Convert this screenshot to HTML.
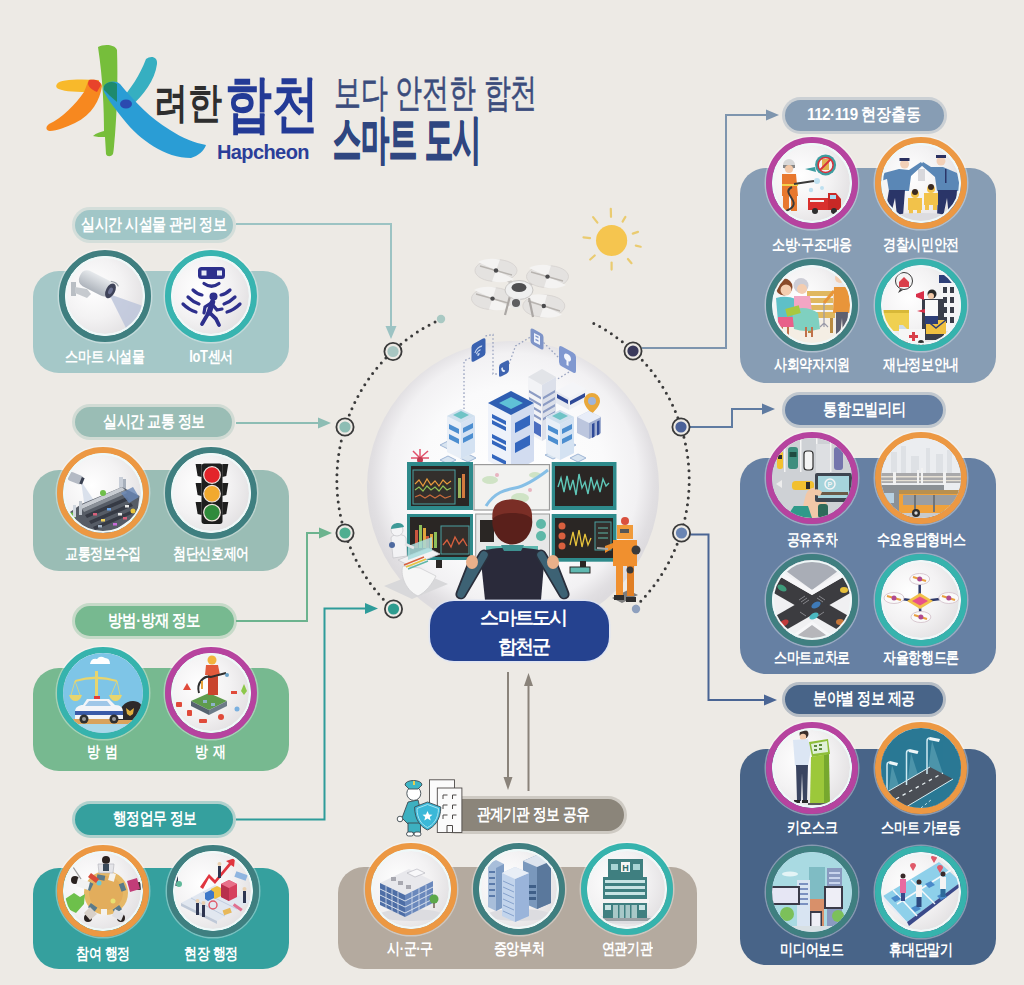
<!DOCTYPE html>
<html><head><meta charset="utf-8">
<style>
html,body{margin:0;padding:0}
body{width:1024px;height:985px;position:relative;overflow:hidden;background:#EDEAE5;font-family:"Liberation Sans",sans-serif}
.a{position:absolute}
.panel{position:absolute;border-radius:26px}
.pill{position:absolute;display:flex;justify-content:center;align-items:center;border-radius:16px;color:#fff;font-weight:bold;font-size:17px;text-align:center;letter-spacing:-0.5px;white-space:nowrap}
.pt{display:inline-block;transform-origin:50% 50%}
.c{position:absolute;width:92px;height:92px;border-radius:50%;box-sizing:border-box;border:6px solid #3a7f7f;overflow:hidden;box-shadow:0 0 0 1.5px rgba(255,255,255,.35)}
.c .in{position:absolute;left:0;top:0;right:0;bottom:0;border-radius:50%;border:2px solid #eef9f9;background:radial-gradient(circle at 35% 40%,#ffffff 0%,#f3f2f3 45%,#d9d6d8 100%)}
.c svg{position:absolute;left:0;top:0;width:80px;height:80px}
.lbl{position:absolute;width:120px;color:#fff;font-weight:bold;font-size:16px;text-align:center;letter-spacing:-0.4px;line-height:16px;transform:scaleX(0.81);transform-origin:50% 0}
</style></head><body>

<svg class="a" style="left:0;top:0" width="1024" height="985" viewBox="0 0 1024 985">
<g fill="none" stroke-width="2">
<path d="M236,224 H391 V328" stroke="#9CC3C3"/>
<path d="M236,423 H320" stroke="#8DBDB4"/>
<path d="M236,621 H307 V533 H321" stroke="#6CB38E"/>
<path d="M236,819.5 H324.5 V608.5 H367" stroke="#2E9C9A"/>
<path d="M642,348 H726 V115 H768" stroke="#7E95AE"/>
<path d="M690,427 H732 V409 H764" stroke="#5F7BA1"/>
<path d="M690,534.5 H708.5 V700 H766" stroke="#4A6594"/>
</g>
<polygon points="385.5,326 396.5,326 391,339" fill="#9CC3C3"/>
<polygon points="318,417.5 318,428.5 331,423" fill="#8DBDB4"/>
<polygon points="319,527.5 319,538.5 332,533" fill="#6CB38E"/>
<polygon points="365,603 365,614 378,608.5" fill="#2E9C9A"/>
<polygon points="766,109.5 766,120.5 779,115" fill="#7E95AE"/>
<polygon points="762,403.5 762,414.5 775,409" fill="#5F7BA1"/>
<polygon points="764,694.5 764,705.5 777,700" fill="#4A6594"/>
<g fill="none" stroke="#3a3a3a" stroke-width="3" stroke-linecap="round" stroke-dasharray="0 6.8">
<path d="M441.1,319.2 A176.2,176.2 0 0 0 393.3,609.3"/>
<path d="M593.8,323.4 A176.2,176.2 0 0 1 634.5,607.6"/>
</g>
<circle cx="441" cy="319" r="4.2" fill="#A9C9C3"/>
<circle cx="636" cy="609" r="4.2" fill="#8EA0BE"/>
<g stroke="#3a3a3a" stroke-width="1.8" fill="#EDEAE5">
<circle cx="393" cy="351.5" r="8.6"/><circle cx="345" cy="427" r="8.6"/><circle cx="345" cy="533" r="8.6"/><circle cx="393.5" cy="609" r="8.6"/>
<circle cx="633" cy="351" r="8.6"/><circle cx="681" cy="427" r="8.6"/><circle cx="681.5" cy="533" r="8.6"/>
</g>
<circle cx="393" cy="351.5" r="5.6" fill="#A8C6C2"/><circle cx="345" cy="427" r="5.6" fill="#8DBDB4"/><circle cx="345" cy="533" r="5.6" fill="#4FAE90"/><circle cx="393.5" cy="609" r="5.6" fill="#2E9C8F"/>
<circle cx="633" cy="351" r="5.6" fill="#3A3A5C"/><circle cx="681" cy="427" r="5.6" fill="#4B6299"/><circle cx="681.5" cy="533" r="5.6" fill="#6A85B3"/>
<g transform="translate(611.6,240.5)">
<circle r="15.6" fill="#F5C54F"/>
<g stroke="#EACB70" stroke-width="2.2" stroke-linecap="round"><line x1="-0.6" y1="-23.7" x2="-0.8" y2="-31.7"/><line x1="11.0" y1="-18.9" x2="13.8" y2="-23.6"/><line x1="21.2" y1="-6.9" x2="26.4" y2="-8.6"/><line x1="24.2" y1="5.1" x2="29.1" y2="6.2"/><line x1="16.3" y1="18.5" x2="19.9" y2="22.7"/><line x1="0.0" y1="22.1" x2="0.0" y2="29.1"/><line x1="-16.9" y1="15.0" x2="-21.4" y2="19.0"/><line x1="-21.6" y1="-2.4" x2="-28.1" y2="-3.1"/><line x1="-14.2" y1="-17.9" x2="-18.5" y2="-23.4"/></g></g>
</svg>
<!-- LEFT PANELS -->
<div class="panel" style="left:33px;top:271px;width:256px;height:102px;background:#A5C8C8"></div>
<div class="pill" style="left:74.5px;top:210px;width:158px;height:29.5px;line-height:29.5px;background:#A1C6C7;box-shadow:0 0 0 3px #A1C6C755"><span class="pt" style="transform:scaleX(0.817)">실시간 시설물 관리 정보</span></div>
<div class="c" style="left:59px;top:250px;border-color:#3F7F80"><div class="in"></div><svg viewBox="0 0 80 80" width="80" height="80">
<defs><linearGradient id="cam" x1="0" y1="0" x2="0" y2="1"><stop offset="0" stop-color="#E6E9EC"/><stop offset="1" stop-color="#AEB4BC"/></linearGradient></defs>
<polygon points="44,38 78,50 64,78" fill="#BAC3DA" opacity="0.8"/>
<path d="M6,26 h5 v14 h-5z" fill="#B9BEC4"/>
<path d="M10,31 L22,33 L26,38 L22,42 L10,37z" fill="#C6CACF"/>
<g transform="translate(31,28) rotate(27)">
<rect x="-18" y="-9" width="35" height="17" rx="7" fill="url(#cam)"/>
<ellipse cx="16" cy="-0.5" rx="4.5" ry="8" fill="#3E4258"/>
<ellipse cx="16" cy="-0.5" rx="2" ry="3.5" fill="#6A7090"/>
<path d="M12,-9 q6,-2 9,1" stroke="#9AA0A8" stroke-width="1.2" fill="none"/>
</g><circle cx="40" cy="40" r="39" fill="none" stroke="#EFF8F8" stroke-width="2"/></svg></div>
<div class="c" style="left:165px;top:250px;border-color:#38B4B0"><div class="in"></div><svg viewBox="0 0 80 80" width="80" height="80">
<g fill="#2D2F8C">
<rect x="27" y="11" width="27" height="12" rx="3.5"/>
</g>
<rect x="30.5" y="14.5" width="5" height="5" fill="#E8ECF6"/><rect x="46" y="14.5" width="5" height="5" fill="#E8ECF6"/>
<g fill="none" stroke="#2D2F8C" stroke-width="3.2" stroke-linecap="round">
<path d="M33,27.5 Q40.5,33 48,27.5"/>
<path d="M22,34 Q26,38 31,39"/><path d="M59,34 Q55,38 50,39"/>
<path d="M17,41 Q22,46 28,48"/><path d="M64,41 Q59,46 53,48"/>
<path d="M12,48 Q18,54 25,56"/><path d="M69,48 Q63,54 56,56"/>
<path d="M38,56 L31,68" stroke-width="3.8"/><path d="M38,56 L45,63 L48,69" stroke-width="3.8"/>
<path d="M40,47 L34,51 L33,57"/><path d="M41,48 L46,54 L51,53"/>
<path d="M41.5,46 L38,57" stroke-width="5.5"/>
</g>
<circle cx="42.5" cy="40.5" r="4" fill="#2D2F8C"/>
<circle cx="40" cy="40" r="39" fill="none" stroke="#EFF8F8" stroke-width="2"/></svg></div>
<div class="lbl" style="left:45px;top:349px">스마트 시설물</div>
<div class="lbl" style="left:151px;top:349px">IoT센서</div>

<div class="panel" style="left:33px;top:470px;width:256px;height:101px;background:#9ABDB5"></div>
<div class="pill" style="left:74.8px;top:407.4px;width:157.7px;height:29.6px;line-height:29.6px;background:#9ABDB5;box-shadow:0 0 0 3px #9ABDB555"><span class="pt" style="transform:scaleX(0.82)">실시간 교통 정보</span></div>
<div class="c" style="left:57px;top:447px;border-color:#EC9843"><div class="in"></div><svg viewBox="0 0 80 80" width="80" height="80">
<polygon points="18,28 34,52 22,56" fill="#D6DEEA" opacity="0.9"/>
<g transform="translate(12,25) rotate(22)"><rect x="-7" y="-4.5" width="15" height="9" rx="3" fill="#B4BAC4"/><rect x="6" y="-3.5" width="3" height="7" fill="#3A4050"/></g>
<rect x="56" y="24" width="4" height="14" fill="#C8CED8"/><rect x="60" y="26" width="3" height="10" fill="#A8B0BC"/>
<polygon points="5.6,60 18.5,51 59,34 76.5,43 74,62 46,81 21,77" fill="#565C66"/>
<polygon points="16,53 59,34 62,37 19,56" fill="#C8CCD2"/>
<polygon points="19,56 62,37 64,40 21,59" fill="#8A9098"/>
<g fill="#363A44"><polygon points="22,62 64,44 66,47 24,65"/><polygon points="26,68 68,50 70,53 28,71"/><polygon points="30,74 72,56 73,59 32,77"/></g>
<g><rect x="30" y="60" width="4" height="2.5" fill="#D8607A"/><rect x="44" y="55" width="4" height="2.5" fill="#6AA0E0"/><rect x="38" y="66" width="4" height="2.5" fill="#F2D35C"/><rect x="55" y="60" width="4" height="2.5" fill="#E8E8E8"/><rect x="50" y="70" width="4" height="2.5" fill="#C86AD8"/><rect x="62" y="52" width="4" height="2.5" fill="#E8E8E8"/><rect x="35" y="72" width="4" height="2.5" fill="#A8B8C8"/><rect x="60" y="64" width="4" height="2.5" fill="#D8607A"/></g>
<circle cx="9" cy="63" r="3.5" fill="#6FBF4A"/><circle cx="40" cy="40" r="3" fill="#6FBF4A"/><circle cx="70" cy="58" r="2.5" fill="#E8C43C"/><circle cx="72" cy="66" r="3" fill="#6FBF4A"/>
<rect x="16" y="48" width="3" height="14" fill="#C0C6CE"/><rect x="10" y="52" width="3" height="12" fill="#D0D6DE"/>
<polygon points="58,40 70,34 76,44 66,50" fill="#6A88B8" opacity="0.8"/>
<circle cx="40" cy="40" r="39" fill="none" stroke="#EFF8F8" stroke-width="2"/></svg></div>
<div class="c" style="left:165px;top:447px;border-color:#3F7F80"><div class="in"></div><svg viewBox="0 0 80 80" width="80" height="80">
<path d="M24.6,11 h6 v13 l-4,-1z M51.3,11 h6 l-2,12 -4,1z M24.6,30 h6 v13 l-4,-1z M51.3,30 h6 l-2,12 -4,1z M24.6,49 h6 v13 l-4,-1z M51.3,49 h6 l-2,12 -4,1z" fill="#1E1E1E"/>
<rect x="30.5" y="10.5" width="21" height="60.5" rx="3" fill="#1E1E1E"/>
<circle cx="41" cy="22" r="8.3" fill="#E3242B" stroke="#F2E6E0" stroke-width="1.2"/>
<circle cx="41" cy="40.7" r="8.3" fill="#F2A92F" stroke="#F2E6E0" stroke-width="1.2"/>
<circle cx="41" cy="59.6" r="8.3" fill="#2F8A3B" stroke="#F2E6E0" stroke-width="1.2"/>
<circle cx="40" cy="40" r="39" fill="none" stroke="#EFF8F8" stroke-width="2"/></svg></div>
<div class="lbl" style="left:43px;top:546px">교통정보수집</div>
<div class="lbl" style="left:151px;top:546px">첨단신호제어</div>

<div class="panel" style="left:33px;top:668px;width:256px;height:103px;background:#77B990"></div>
<div class="pill" style="left:74.5px;top:606.3px;width:159px;height:29.7px;line-height:29.7px;background:#77B990;box-shadow:0 0 0 3px #77B99055"><span class="pt" style="transform:scaleX(0.85)">방범·방재 정보</span></div>
<div class="c" style="left:57px;top:647px;border-color:#36B3AD"><div class="in"></div><svg viewBox="0 0 80 80" width="80" height="80">
<rect x="0" y="0" width="80" height="80" fill="#7EC5E7"/>
<rect x="0" y="67" width="80" height="13" fill="#A9D8EA"/>
<rect x="8" y="66" width="64" height="5" fill="#D9A35C"/>
<path d="M27,11 q1,-6 7,-5 q3,-4 8,-1 q5,0 5,6z" fill="#fff"/>
<g fill="#E8D56E"><rect x="32" y="18" width="3" height="30"/><path d="M12,27 Q33,20 54,27 L54,29 Q33,23 12,29z"/><path d="M6,42 h13 q-2,6 -6.5,6 q-4.5,0 -6.5,-6z"/><path d="M46,42 h13 q-2,6 -6.5,6 q-4.5,0 -6.5,-6z"/></g>
<g stroke="#E8D56E" stroke-width="0.8"><line x1="12" y1="28" x2="8" y2="42"/><line x1="12" y1="28" x2="17" y2="42"/><line x1="54" y1="28" x2="48" y2="42"/><line x1="54" y1="28" x2="57" y2="42"/></g>
<path d="M55,67 C55,55 62,48 70,48 C76,48 80,52 80,58 L80,67z" fill="#2E2A2A"/>
<path d="M63,55 l4,3 4,-3 -1,6 -3,2 -3,-2z" fill="#E0B040"/>
<path d="M12,59 C12,54 16,52 20,52 L24,46 L46,46 L52,52 C58,52 60,55 60,59 L60,66 L12,66z" fill="#F4F5F8"/>
<path d="M26,48 h18 l4,5 h-26z" fill="#9FC7E8"/>
<rect x="12" y="58" width="48" height="4" fill="#3A5BA8"/>
<rect x="31" y="43" width="6" height="3" fill="#E23A3A"/>
<circle cx="21" cy="66" r="4.5" fill="#2E2E2E"/><circle cx="51" cy="66" r="4.5" fill="#2E2E2E"/>
<circle cx="21" cy="66" r="2" fill="#999"/><circle cx="51" cy="66" r="2" fill="#999"/>
</svg></div>
<div class="c" style="left:165px;top:647px;border-color:#B6439F"><div class="in"></div><svg viewBox="0 0 80 80" width="80" height="80">
<polygon points="20,48 38,40 56,48 38,57" fill="#5F9B4C"/>
<polygon points="20,48 38,57 38,62 20,53" fill="#566370"/>
<polygon points="56,48 38,57 38,62 56,53" fill="#6D7B88"/>
<g fill="#8FB3C8"><rect x="32" y="47" width="4" height="3"/><rect x="40" y="50" width="4" height="3"/></g>
<circle cx="41" cy="7" r="4.5" fill="#F2B33D"/>
<path d="M35,12 h12 l2,10 -2,0 v20 h-10 v-20 l-3,0z" fill="#E25A3C"/>
<path d="M37,24 h10 v18 h-10z" fill="#C9442E"/>
<path d="M28,40 C25,30 33,22 40,24 L55,20" fill="none" stroke="#2E2E2E" stroke-width="2"/>
<circle cx="56" cy="22" r="2" fill="#6AA3C8"/>
<g fill="#E04A3A"><path d="M12,37 l4,-7 4,7z"/><rect x="5" y="49" width="6" height="5" rx="1"/><rect x="16" y="57" width="5" height="6" rx="1"/><rect x="28" y="66" width="8" height="4" rx="1"/><circle cx="50" cy="64" r="3"/><rect x="60" y="38" width="6" height="3"/></g>
<path d="M70,38 l3,-7 3,7 -3,4z" fill="#8CC84A"/>
<circle cx="66" cy="56" r="2.5" fill="#7AB0E0"/>
<rect x="30" y="28" width="2" height="8" fill="#E8A33C"/>
<circle cx="40" cy="40" r="39" fill="none" stroke="#EFF8F8" stroke-width="2"/></svg></div>
<div class="lbl" style="left:43px;top:744px"><span style="letter-spacing:1px">방 범</span></div>
<div class="lbl" style="left:151px;top:744px"><span style="letter-spacing:1px">방 재</span></div>

<div class="panel" style="left:33px;top:868px;width:256px;height:101px;background:#35A09E"></div>
<div class="pill" style="left:74.8px;top:804.3px;width:158.7px;height:30.5px;line-height:30.5px;background:#35A09E;box-shadow:0 0 0 3px #35A09E55"><span class="pt" style="transform:scaleX(0.805)">행정업무 정보</span></div>
<div class="c" style="left:57px;top:845px;border-color:#EC9843"><div class="in"></div><svg viewBox="0 0 80 80" width="80" height="80">
<circle cx="43" cy="42" r="22" fill="#E6B866"/>
<circle cx="43" cy="42" r="17" fill="#E2AD5C"/>
<g fill="#5A7A8A"><rect x="34" y="24" width="8" height="5" transform="rotate(10 38 26)"/><rect x="56" y="34" width="8" height="5" transform="rotate(70 60 36)"/><rect x="50" y="56" width="8" height="5" transform="rotate(-35 54 58)"/><rect x="26" y="54" width="8" height="5" transform="rotate(35 30 56)"/><rect x="22" y="33" width="8" height="5" transform="rotate(-65 26 35)"/></g>
<g fill="#F4F2EE"><rect x="46" y="22" width="6" height="8" transform="rotate(15 49 26)"/><rect x="38" y="58" width="6" height="6"/></g>
<circle cx="36" cy="32" r="2.5" fill="#6AC8D8"/><circle cx="50" cy="50" r="2.5" fill="#E8E070"/>
<g>
<circle cx="43" cy="9" r="4" fill="#2A2220"/><path d="M35,13 h16 l-1,9 h-14z" fill="#E4E4E8" stroke="#B0B0B8" stroke-width="0.6"/><path d="M40,13 h6 v7 h-6z" fill="#3A4A5A"/>
<circle cx="76" cy="35" r="4" fill="#3A2A2A"/><path d="M64,30 l10,-3 3,11 -10,3z" fill="#C23C78"/>
<circle cx="58" cy="67" r="4" fill="#2A2220"/><path d="M52,58 l9,5 -3,7 -9,-5z" fill="#E0E0E4"/>
<circle cx="25" cy="67" r="4" fill="#2A2220"/><path d="M27,56 l7,7 -7,6 -6,-7z" fill="#D8D0C8"/>
<circle cx="12" cy="29" r="4" fill="#2A2220"/><path d="M15,27 l12,4 -2,8 -12,-4z" fill="#F2F2F2"/>
<path d="M28,22 l8,6 -3,4 -8,-6z" fill="#D84A3A"/>
</g>
<path d="M2,48 l9,-6 6,4 5,-3 -1,10 -8,9 -10,-5z" fill="#6DC04B"/>
<path d="M10,16 l8,12" stroke="#9A9A9A" stroke-width="1.3"/>
<circle cx="40" cy="40" r="39" fill="none" stroke="#EFF8F8" stroke-width="2"/></svg></div>
<div class="c" style="left:167px;top:845px;border-color:#3F7F80"><div class="in"></div><svg viewBox="0 0 80 80" width="80" height="80">
<polygon points="8,52 42,34 78,50 44,70" fill="#E1E7F0"/>
<polygon points="8,52 44,70 44,73 8,55" fill="#BFC9D8"/>
<g fill="none" stroke="#B9C6DA" stroke-width="0.8"><line x1="18" y1="47" x2="52" y2="65"/><line x1="30" y1="41" x2="64" y2="58"/></g>
<path d="M27,36 L36,23 L42,29 L56,12 L53,10 L62,7 L61,16 L58,14 L42,33 L36,27 L30,38z" fill="#E0353F"/>
<polygon points="48,33 56,29 64,33 64,46 56,50 48,46" fill="#D6405F"/>
<polygon points="48,33 56,37 56,50 48,46" fill="#B8304C"/>
<polygon points="48,33 56,29 64,33 56,37" fill="#E8708A"/>
<polygon points="38,38 44,35 48,37 48,45 42,48 38,46" fill="#F0C040"/>
<polygon points="32,42 38,39 41,41 41,47 35,50 32,48" fill="#3E78C8"/>
<rect x="62" y="22" width="12" height="6" fill="#8FB5E0" transform="rotate(20 68 25)"/>
<circle cx="40" cy="54" r="4" fill="none" stroke="#E05A6A" stroke-width="1.4"/>
<g fill="#2E3550"><rect x="23" y="52" width="3" height="12"/><rect x="29" y="54" width="3" height="12"/><rect x="45" y="15" width="3" height="12"/><rect x="70" y="40" width="3" height="12"/><rect x="2" y="23" width="3" height="12"/></g>
<g fill="#EAD0B0"><circle cx="24.5" cy="50" r="2"/><circle cx="30.5" cy="52" r="2"/><circle cx="46.5" cy="13" r="2"/><circle cx="71.5" cy="38" r="2"/></g>
<circle cx="6" cy="33" r="3" fill="#5FB89A"/>
<g fill="#E8B85A"><rect x="50" y="58" width="8" height="5" transform="rotate(-20 54 60)"/></g>
<rect x="60" y="55" width="10" height="3" fill="#E07090" transform="rotate(35 65 56)"/>
<circle cx="40" cy="40" r="39" fill="none" stroke="#EFF8F8" stroke-width="2"/></svg></div>
<div class="lbl" style="left:43px;top:946px">참여 행정</div>
<div class="lbl" style="left:151px;top:946px">현장 행정</div>

<!-- RIGHT PANELS -->
<div class="panel" style="left:740px;top:168px;width:256px;height:215px;background:#879DB4"></div>
<div class="pill" style="left:784.5px;top:100.3px;width:159px;height:30.7px;line-height:30.7px;background:#879DB4;box-shadow:0 0 0 3px #879DB455"><span class="pt" style="transform:scaleX(0.89)">112·119 현장출동</span></div>
<div class="c" style="left:766px;top:137px;border-color:#B6439F"><div class="in"></div><svg viewBox="0 0 80 80" width="80" height="80">
<path d="M33,26 L43,24 L44,29z" fill="#3C9CA0"/>
<circle cx="53.6" cy="21.9" r="10.5" fill="#3C9CA0"/>
<circle cx="53.6" cy="21.9" r="7.5" fill="#F2F2F2"/>
<rect x="50" y="16" width="7" height="11" fill="#E0B050"/>
<line x1="48" y1="27" x2="59" y2="16" stroke="#D9303A" stroke-width="1.8"/>
<circle cx="53.6" cy="21.9" r="7.5" fill="none" stroke="#D9303A" stroke-width="1.5"/>
<g fill="#BEE0F0"><circle cx="45" cy="38" r="3"/><circle cx="50" cy="45" r="2"/><circle cx="39" cy="47" r="2.2"/></g>
<circle cx="17" cy="22" r="6" fill="#D8D8D8"/><rect x="11" y="22" width="12" height="3" fill="#888"/>
<circle cx="17" cy="26" r="4" fill="#F2C8A8"/>
<path d="M10,31 h14 l2,22 h-16z" fill="#E8782E"/>
<path d="M11,52 h6 v16 h-6z M19,52 h6 v16 h-6z" fill="#E8782E"/>
<rect x="10" y="41" width="16" height="2" fill="#F2D24A"/>
<path d="M22,41 L42,38 M20,44 C8,50 30,58 18,66 C12,70 8,68 4,70" fill="none" stroke="#3A3A3A" stroke-width="2"/>
<rect x="36" y="55" width="32" height="12" fill="#D9302E"/>
<path d="M56,50 h8 l5,6 v11 h-13z" fill="#C82826"/>
<rect x="58" y="52" width="6" height="4" fill="#A8D8F0"/>
<rect x="38" y="57" width="14" height="2" fill="#F2F2F2"/>
<circle cx="43" cy="68" r="3" fill="#2E2E2E"/><circle cx="62" cy="68" r="3" fill="#2E2E2E"/>
<circle cx="40" cy="40" r="39" fill="none" stroke="#EFF8F8" stroke-width="2"/></svg></div>
<div class="c" style="left:875px;top:137px;border-color:#EC9843"><div class="in"></div><svg viewBox="0 0 80 80" width="80" height="80">
<rect x="37" y="26" width="7" height="12" fill="#D8D8DC"/>
<circle cx="23.6" cy="21" r="4.5" fill="#F2D0B8"/><path d="M18.5,18 h10 v-3 h-10z" fill="#2A3060"/>
<path d="M3,30 L18,26 L28,27 L40,19 L42,22 L30,33 L28,48 L8,48 L6,36 L0,38z" fill="#5A87B6"/>
<path d="M8,47 h16 l-2,26 h-6 l-2,-18 -4,16 h-6z" fill="#2A3568"/>
<circle cx="60" cy="18" r="4.5" fill="#F2D0B8"/><path d="M55,15 h10 v-3 h-10z" fill="#2A3060"/>
<path d="M42,19 L50,24 L62,24 L76,30 L80,48 L56,48 L54,34 L40,22z" fill="#5A87B6"/>
<path d="M57,47 h19 l-2,27 h-6 l-2,-19 -4,19 h-6z" fill="#2A3568"/>
<rect x="64" y="26" width="1.5" height="14" fill="#2A3568"/>
<g fill="#F2C24A"><circle cx="34" cy="51" r="4"/><path d="M27,55 h14 v12 h-14z"/><path d="M28,66 h4 v6 h-4z M36,66 h4 v6 h-4z"/>
<circle cx="50" cy="46" r="4"/><path d="M43,50 h14 v12 h-14z"/><path d="M44,61 h4 v6 h-4z M52,61 h4 v6 h-4z"/></g>
<g fill="#3A2A22"><circle cx="34" cy="49" r="3"/><circle cx="50" cy="44" r="3"/></g>
<ellipse cx="40" cy="74" rx="30" ry="4" fill="#DCDCE0"/>
<circle cx="40" cy="40" r="39" fill="none" stroke="#EFF8F8" stroke-width="2"/></svg></div>
<div class="c" style="left:766px;top:259px;border-color:#3F7F80"><div class="in"></div><svg viewBox="0 0 80 80" width="80" height="80">
<rect x="0" y="55" width="80" height="25" fill="#F4EEE4"/>
<g fill="#E0B860"><rect x="35" y="26" width="26" height="5"/><rect x="35" y="33" width="26" height="5"/><rect x="35" y="40" width="26" height="5"/><rect x="30" y="47" width="33" height="6"/></g>
<g fill="#B88A40"><rect x="36" y="53" width="3" height="15"/><rect x="58" y="53" width="3" height="15"/></g>
<circle cx="12" cy="22" r="8.5" fill="#8A4A2A"/><circle cx="14" cy="25" r="5.5" fill="#F4CDB0"/>
<path d="M4,33 Q14,30 24,34 L28,55 L6,57z" fill="#5EC0C8"/>
<path d="M6,52 h24 l2,10 h-26z" fill="#E8608A"/>
<path d="M10,62 v12 M16,62 v12" stroke="#C0704A" stroke-width="2"/>
<circle cx="29" cy="20.5" r="7.5" fill="#CDCDD6"/><circle cx="30" cy="24" r="5" fill="#F4CDB0"/>
<path d="M22,31 h16 l2,16 h-18z" fill="#F2A6C4"/>
<path d="M20,45 Q34,40 46,48 L48,64 Q34,68 22,64z" fill="#7FD0C0"/>
<path d="M34,62 v10 M40,62 v10" stroke="#C0704A" stroke-width="2"/>
<rect x="14" y="42" width="14" height="8" fill="#A8C840" transform="rotate(-15 21 46)"/>
<circle cx="68" cy="13" r="5" fill="#F4CDB0"/><path d="M63,10 q5,-5 10,0" fill="#9A9AA8"/>
<path d="M62,22 h14 l3,26 h-18z" fill="#E8953A"/>
<path d="M62,26 L52,38" stroke="#E8953A" stroke-width="3"/>
<path d="M64,47 h12 l-1,24 h-4 l-1,-18 -2,18 h-4z" fill="#5E6070"/>
<path d="M52,38 v24 M48,62 l4,-4 4,4" stroke="#9A9AA8" stroke-width="1.2" fill="none"/>
<circle cx="40" cy="40" r="39" fill="none" stroke="#EFF8F8" stroke-width="2"/></svg></div>
<div class="c" style="left:875px;top:259px;border-color:#36B3AD"><div class="in"></div><svg viewBox="0 0 80 80" width="80" height="80">
<path d="M58,10 h20 v8 h-20z" fill="#2E3F78"/>
<rect x="60" y="18" width="20" height="48" fill="#F4F4F6"/>
<g fill="#3A3E4A"><rect x="62" y="22" width="4" height="6"/><rect x="69" y="22" width="4" height="6"/><rect x="62" y="32" width="4" height="6"/><rect x="69" y="32" width="4" height="6"/><rect x="62" y="42" width="4" height="6"/><rect x="69" y="42" width="4" height="6"/><rect x="62" y="52" width="4" height="6"/><rect x="69" y="52" width="4" height="6"/></g>
<circle cx="23" cy="16" r="8.5" fill="#F4F4F4" stroke="#3A3A3A" stroke-width="1"/>
<path d="M19,24 l-2,4 5,-3z" fill="#3A3A3A"/>
<path d="M18,17 l5,-5 5,5 v5 h-10z" fill="#D9404A"/>
<rect x="2" y="45" width="26" height="21" fill="#F0D050"/>
<rect x="2" y="45" width="26" height="3" fill="#D8B838"/>
<path d="M41,34 h22 v41 h-22z" fill="#3A3E4A"/>
<path d="M45,55 h20 v14 h-20z" fill="#F0C040"/>
<path d="M45,55 l10,8 10,-8" fill="none" stroke="#2E3F78" stroke-width="1.5"/>
<circle cx="51" cy="29" r="4.5" fill="#2A2A2A"/><circle cx="50" cy="31" r="3" fill="#F2C8A8"/>
<path d="M44,35 h13 v16 h-13z" fill="#FAFAFA"/>
<path d="M44,51 h13 v8 h-13z" fill="#2E3F78"/>
<path d="M35,29 l8,-3 v9 l-8,-3z" fill="#D9304A"/>
<path d="M36,46 l8,-2 v4z" fill="#D9304A"/>
<path d="M18,64 h26 v14 h-26z" fill="#F6F6F6"/><path d="M18,64 h8 l-4,-4 h-4z" fill="#CFDCE8"/>
<path d="M31,67 h3 v3 h3 v3 h-3 v3 h-3 v-3 h-3 v-3 h3z" fill="#D9404A"/>
<circle cx="24" cy="78" r="3" fill="#2E2E2E"/><circle cx="40" cy="78" r="3" fill="#2E2E2E"/>
<circle cx="40" cy="40" r="39" fill="none" stroke="#EFF8F8" stroke-width="2"/></svg></div>
<div class="lbl" style="left:752px;top:237px">소방·구조대응</div>
<div class="lbl" style="left:861px;top:237px">경찰시민안전</div>
<div class="lbl" style="left:752px;top:357px">사회약자지원</div>
<div class="lbl" style="left:861px;top:357px">재난정보안내</div>

<div class="panel" style="left:740px;top:458px;width:256px;height:216px;background:#6680A3"></div>
<div class="pill" style="left:784.8px;top:395.3px;width:158.7px;height:29.7px;line-height:29.7px;background:#6680A3;box-shadow:0 0 0 3px #6680A355"><span class="pt" style="transform:scaleX(0.835)">통합모빌리티</span></div>
<div class="c" style="left:766px;top:432px;border-color:#B6439F"><div class="in"></div><svg viewBox="0 0 80 80" width="80" height="80">
<rect x="0" y="0" width="80" height="80" fill="#CED1D5"/>
<g fill="#F4F4F4"><rect x="12" y="0" width="1.5" height="34"/><rect x="28" y="0" width="1.5" height="34"/><rect x="44" y="0" width="1.5" height="34"/><rect x="58" y="0" width="1.5" height="34"/></g>
<rect x="44" y="6" width="14" height="30" fill="#DDDFE2"/>
<rect x="5" y="13" width="6" height="18" rx="2.5" fill="#F2C030"/><rect x="6" y="17" width="4" height="4" fill="#2E2E2E"/>
<rect x="16" y="9" width="10" height="22" rx="3" fill="#3E8E7E"/><rect x="17.5" y="14" width="7" height="5" fill="#1F4A40"/>
<rect x="32" y="13" width="9" height="19" rx="3" fill="#F4F4F4" stroke="#2E2E2E" stroke-width="1.2"/>
<rect x="62" y="9" width="9" height="23" rx="3" fill="#7474AC"/>
<path d="M4,46 l6,-4 v8z" fill="#EDEDED"/>
<rect x="20" y="43" width="22" height="9" rx="3.5" fill="#F2C030"/><rect x="34" y="44" width="4" height="7" fill="#2E2E2E"/>
<path d="M28,80 L34,56 C38,48 44,48 48,54 L56,68 L50,80z" fill="#F2C8A8"/>
<path d="M14,80 L22,68 L36,68 L40,80z" fill="#2F9A8A"/>
<rect x="46" y="66" width="10" height="14" rx="3" fill="#2F6A5A"/>
<rect x="43" y="35" width="37" height="29" rx="2" fill="#3E4550"/>
<rect x="46" y="38" width="31" height="22" fill="#A6D4DC"/>
<circle cx="58" cy="46" r="5" fill="none" stroke="#F4F4F4" stroke-width="1.5"/>
<text x="55.5" y="49" font-size="7" font-family="Liberation Sans" fill="#F4F4F4" font-weight="bold">P</text>
<rect x="47" y="54" width="29" height="3" fill="#6A5A48"/>
<path d="M38,56 C42,50 46,50 50,54 L48,58z" fill="#F2C8A8"/>
</svg></div>
<div class="c" style="left:875px;top:432px;border-color:#EC9843"><div class="in"></div><svg viewBox="0 0 80 80" width="80" height="80">
<rect x="0" y="0" width="80" height="80" fill="#EBEDF0"/>
<g fill="#DEE1E5"><rect x="10" y="14" width="6" height="22"/><rect x="20" y="8" width="5" height="28"/><rect x="30" y="18" width="8" height="18"/><rect x="45" y="10" width="4" height="26"/><rect x="55" y="16" width="7" height="20"/><rect x="66" y="12" width="5" height="24"/></g>
<rect x="0" y="35" width="80" height="10" fill="#A9A9AB"/>
<g fill="#E6E0D4"><rect x="0" y="38" width="80" height="1.5"/><rect x="0" y="42" width="80" height="1.2"/></g>
<g fill="#F2F2F2"><rect x="12" y="34" width="3" height="13"/><rect x="36" y="32" width="2" height="15"/><rect x="40" y="30" width="2" height="17"/><rect x="62" y="34" width="3" height="13"/></g>
<rect x="0" y="47" width="63" height="28" fill="#8B9095"/>
<rect x="3" y="55" width="10" height="10" fill="#B8D0E0"/>
<rect x="18" y="52" width="62" height="4" fill="#B89050"/>
<rect x="18" y="56" width="62" height="20" fill="#F0A23C"/>
<rect x="22" y="57" width="58" height="10" fill="#9A9EA3"/>
<g fill="#6E7378"><rect x="33" y="57" width="2" height="17"/><rect x="52" y="57" width="2" height="17"/></g>
<rect x="0" y="75" width="80" height="5" fill="#C8CACC"/>
<circle cx="35" cy="75" r="4" fill="#2E2E2E"/><circle cx="35" cy="75" r="1.7" fill="#D8D8D8"/>
<circle cx="7" cy="70" r="3" fill="#2E2E2E"/>
</svg></div>
<div class="c" style="left:766px;top:554px;border-color:#3F7F80"><div class="in"></div><svg viewBox="0 0 80 80" width="80" height="80">
<rect x="0" y="0" width="80" height="80" fill="#F0F0F2"/>
<polygon points="0,12 80,58 80,78 0,32" fill="#3C3C40"/>
<polygon points="80,12 0,58 0,78 80,32" fill="#3C3C40"/>
<polygon points="10,8 40,-4 70,8 40,30" fill="#A9ADB6"/>
<polygon points="6,10 40,30 74,10 78,13 40,35 2,13" fill="#F6F6F8"/>
<polygon points="18,80 40,64 62,80" fill="#B6B6BA"/>
<polygon points="14,80 40,61 66,80 61,80 40,65 19,80" fill="#F6F6F8"/>
<g stroke="#9A9AA0" stroke-width="0.8"><line x1="27" y1="40" x2="33" y2="36"/><line x1="29" y1="42" x2="35" y2="38"/><line x1="31" y1="44" x2="37" y2="40"/><line x1="45" y1="38" x2="51" y2="42"/><line x1="47" y1="36" x2="53" y2="40"/><line x1="28" y1="52" x2="34" y2="56"/><line x1="46" y1="56" x2="52" y2="52"/></g>
<ellipse cx="10" cy="28" rx="5" ry="3" fill="#3E9A7A" transform="rotate(30 10 28)"/>
<ellipse cx="44" cy="45" rx="5" ry="3" fill="#3E7AB8" transform="rotate(-30 44 45)"/>
<ellipse cx="42" cy="56" rx="5" ry="3" fill="#4AB8C0" transform="rotate(-30 42 56)"/>
<ellipse cx="12" cy="63" rx="5" ry="3" fill="#C03A3A" transform="rotate(-30 12 63)"/>
<ellipse cx="72" cy="30" rx="4" ry="3" fill="#E8C03A"/>
<ellipse cx="68" cy="62" rx="4" ry="3" fill="#C8783A"/>
<circle cx="40" cy="40" r="39" fill="none" stroke="#EFF8F8" stroke-width="2"/></svg></div>
<div class="c" style="left:875px;top:554px;border-color:#36B3AD"><div class="in"></div><svg viewBox="0 0 80 80" width="80" height="80">
<g stroke="#2F3A6A" stroke-width="2.5"><line x1="38.7" y1="41.5" x2="38.7" y2="20"/><line x1="38.7" y1="41.5" x2="14" y2="38"/><line x1="38.7" y1="41.5" x2="67" y2="38"/><line x1="38.7" y1="41.5" x2="39.5" y2="57"/></g>
<g fill="#FAFAFA" stroke="#D8C8D0" stroke-width="1">
<ellipse cx="38.7" cy="19" rx="10" ry="5.5"/><ellipse cx="13" cy="38" rx="10" ry="5.5"/><ellipse cx="67.8" cy="38" rx="10" ry="5.5"/><ellipse cx="39.9" cy="57" rx="10" ry="5.5"/>
</g>
<g stroke="#E8A040" stroke-width="2"><line x1="32" y1="17" x2="45" y2="21"/><line x1="6" y1="36" x2="20" y2="40"/><line x1="61" y1="36" x2="74" y2="40"/><line x1="33" y1="55" x2="46" y2="59"/></g>
<g fill="#B04A90"><circle cx="38.7" cy="19" r="2.5"/><circle cx="13" cy="38" r="2.5"/><circle cx="67.8" cy="38" r="2.5"/><circle cx="39.9" cy="57" r="2.5"/></g>
<polygon points="26,41 39,33 52,41 39,49" fill="#F2C04A"/>
<polygon points="31,41 39,36.5 47,41 39,45.5" fill="#E8508A"/>
<circle cx="40" cy="40" r="39" fill="none" stroke="#EFF8F8" stroke-width="2"/></svg></div>
<div class="lbl" style="left:752px;top:532px">공유주차</div>
<div class="lbl" style="left:861px;top:532px">수요응답형버스</div>
<div class="lbl" style="left:752px;top:650px">스마트교차로</div>
<div class="lbl" style="left:861px;top:650px">자율항행드론</div>

<div class="panel" style="left:740px;top:749px;width:256px;height:216px;background:#486488"></div>
<div class="pill" style="left:784.8px;top:685.3px;width:158.7px;height:28.7px;line-height:28.7px;background:#486488;box-shadow:0 0 0 3px #48648855"><span class="pt" style="transform:scaleX(0.82)">분야별 정보 제공</span></div>
<div class="c" style="left:766px;top:722px;border-color:#B6439F"><div class="in"></div><svg viewBox="0 0 80 80" width="80" height="80">
<circle cx="32" cy="6" r="4.5" fill="#3A2E2A"/><circle cx="31" cy="9" r="3.2" fill="#F2C8A8"/>
<path d="M21,12 L36,11 L39,22 L36,38 L23,38z" fill="#DCE6F4"/>
<path d="M36,16 L44,22 L42,24 L35,21z" fill="#DCE6F4"/>
<path d="M24,37 h12 l-1,36 h-4 l-1,-28 -1,28 h-4z" fill="#3A4460"/>
<rect x="22" y="72" width="6" height="3" fill="#2A2A2A"/><rect x="30" y="72" width="6" height="3" fill="#2A2A2A"/>
<path d="M37,14 L56,11 L58,26 L40,29z" fill="#8DBE3A"/>
<path d="M39,16 L55,13 L56,24 L41,26z" fill="#E0F0D8"/>
<g fill="#5A8A3A"><rect x="42" y="17" width="3" height="2"/><rect x="47" y="16" width="3" height="2"/><rect x="42" y="21" width="3" height="2"/><rect x="47" y="20" width="3" height="2"/></g>
<path d="M39,29 L56,26 L57,76 L38,76z" fill="#9CC83A"/>
<path d="M52,27 L57,26 L58,76 L52,76z" fill="#76A82E"/>
<rect x="36" y="75" width="24" height="2" fill="#5A5A5A"/>
<circle cx="40" cy="40" r="39" fill="none" stroke="#EFF8F8" stroke-width="2"/></svg></div>
<div class="c" style="left:875px;top:722px;border-color:#EC9843"><div class="in"></div><svg viewBox="0 0 80 80" width="80" height="80">
<rect x="0" y="0" width="80" height="80" fill="#2A7894"/>
<g fill="#8CC8D4" opacity="0.35"><polygon points="11,37 20,64 7,68"/><polygon points="30,25 40,56 26,60"/><polygon points="51,13 62,46 46,50"/></g>
<polygon points="6,64 49,39 72,51 25,79" fill="#4A4E55"/>
<g stroke="#D8EEF4" stroke-width="1"><line x1="6" y1="64" x2="49" y2="39"/><line x1="25" y1="79" x2="72" y2="51"/></g>
<g stroke="#E8F0F2" stroke-width="1.3" stroke-dasharray="3.5 4"><line x1="15" y1="71" x2="62" y2="45"/></g>
<g stroke="#C8E4EC" stroke-width="1" stroke-dasharray="2.5 2.5"><line x1="40" y1="80" x2="50" y2="72"/></g>
<g fill="none" stroke="#CFEAF2" stroke-width="1.5"><path d="M6,66 V37 q0,-3 3,-3"/><path d="M25.5,57 V25 q0,-3 3,-3"/><path d="M46,46 V13 q0,-3 3,-3"/></g>
<g fill="#EEF6F8"><path d="M9,33 l8,2 -1,3 -8,-2z"/><path d="M28.5,21 l9,2 -1,3 -9,-2z"/><path d="M49,9 l10,2 -1,3 -10,-2z"/></g>
</svg></div>
<div class="c" style="left:766px;top:846px;border-color:#3F7F80"><div class="in"></div><svg viewBox="0 0 80 80" width="80" height="80">
<rect x="0" y="0" width="80" height="80" fill="#A9DAE2"/>
<ellipse cx="18" cy="22" rx="8" ry="2.5" fill="#E4F4F6"/>
<rect x="37" y="15" width="16" height="40" fill="#7FBCC4"/>
<rect x="55" y="16" width="15" height="58" fill="#8A9AC0"/>
<g fill="#C8D4EC"><rect x="57" y="20" width="11" height="2"/><rect x="57" y="25" width="11" height="2"/><rect x="57" y="30" width="11" height="2"/><rect x="57" y="35" width="11" height="2"/></g>
<rect x="25" y="28" width="13" height="46" fill="#D8E4F2"/>
<g fill="#7A90C0"><rect x="27" y="31" width="9" height="2"/><rect x="27" y="36" width="9" height="2"/><rect x="27" y="41" width="9" height="2"/><rect x="27" y="46" width="9" height="2"/><rect x="27" y="51" width="9" height="2"/></g>
<rect x="38" y="47" width="14" height="27" fill="#D8906A"/>
<circle cx="15" cy="62" r="7" fill="#7CC05A"/><circle cx="66" cy="64" r="6" fill="#7CC05A"/>
<rect x="-2" y="34" width="30" height="19" fill="#3A3A48"/><rect x="0" y="36" width="26" height="15" fill="#E6E6F4"/>
<rect x="52" y="34" width="19" height="23" fill="#3A3A48"/><rect x="54" y="36" width="15" height="19" fill="#EEEEF6"/>
<rect x="38" y="59" width="12" height="18" fill="#3A3A48"/><rect x="39.5" y="61" width="9" height="14" fill="#EEEEF6"/>
<rect x="0" y="74" width="80" height="6" fill="#D8E0E4"/>
</svg></div>
<div class="c" style="left:875px;top:846px;border-color:#36B3AD"><div class="in"></div><svg viewBox="0 0 80 80" width="80" height="80">
<polygon points="2,44 58,10 80,30 26,70" fill="#8ED0EA"/>
<polygon points="2,44 26,70 28,74 2,48" fill="#E8ECF4"/>
<polygon points="26,70 80,30 80,34 28,74" fill="#3A4A8A"/>
<g stroke="#F4F8FA" stroke-width="1.5"><line x1="12" y1="38" x2="36" y2="64"/><line x1="30" y1="28" x2="54" y2="52"/><line x1="16" y1="52" x2="70" y2="18"/></g>
<g fill="#4A8ACA"><polygon points="10,46 16,43 20,47 14,50"/><polygon points="44,32 50,29 54,33 48,36"/><polygon points="56,44 62,41 66,45 60,48"/><polygon points="30,56 36,53 40,57 34,60"/></g>
<g fill="#E05A6A"><path d="M29,14 a3,3 0 1,1 6,0 l-3,5z"/><path d="M50,6 a3,3 0 1,1 6,0 l-3,5z"/><path d="M56,16 a3,3 0 1,1 6,0 l-3,5z"/></g>
<g><circle cx="22" cy="24" r="2.5" fill="#3A2A2A"/><path d="M19,27 h6 v14 h-6z" fill="#E86AA0"/><path d="M20,41 h4 v8 h-4z" fill="#3A4A8A"/>
<circle cx="38" cy="30" r="2.5" fill="#3A2A2A"/><path d="M35,33 h6 v12 h-6z" fill="#F4F4F4"/><path d="M35.5,45 h5 v10 h-5z" fill="#2E4A80"/>
<circle cx="62" cy="22" r="2.5" fill="#3A2A2A"/><path d="M59,25 h6 v12 h-6z" fill="#F4F4F4"/><path d="M59.5,37 h5 v8 h-5z" fill="#2E6A9A"/></g>
<circle cx="40" cy="40" r="39" fill="none" stroke="#EFF8F8" stroke-width="2"/></svg></div>
<div class="lbl" style="left:752px;top:820px">키오스크</div>
<div class="lbl" style="left:861px;top:820px">스마트 가로등</div>
<div class="lbl" style="left:752px;top:942px">미디어보드</div>
<div class="lbl" style="left:861px;top:942px">휴대단말기</div>

<!-- BOTTOM CENTER -->
<div class="panel" style="left:338px;top:867px;width:359px;height:102px;background:#B4AA9F"></div>
<div class="pill" style="left:440px;top:799px;width:184px;height:32px;line-height:32px;background:#8B857A;box-shadow:0 0 0 3px #8B857A50"><span class="pt" style="transform:translateX(0.5px) scaleX(0.8)">관계기관 정보 공유</span></div>
<div class="c" style="left:365px;top:843px;border-color:#EC9843"><div class="in"></div><svg viewBox="0 0 80 80" width="80" height="80">
<ellipse cx="40" cy="66" rx="32" ry="6" fill="#DCDCE0"/>
<polygon points="9,34 38,20 62,32 34,46" fill="#E8E8EC"/>
<polygon points="9,34 34,46 34,68 9,56" fill="#4E6EA6"/>
<polygon points="34,46 62,32 62,54 34,68" fill="#6A88BC"/>
<g stroke="#D8E0EC" stroke-width="1"><line x1="9" y1="40" x2="34" y2="52"/><line x1="9" y1="46" x2="34" y2="58"/><line x1="9" y1="52" x2="34" y2="64"/><line x1="34" y1="52" x2="62" y2="38"/><line x1="34" y1="58" x2="62" y2="44"/><line x1="34" y1="64" x2="62" y2="50"/></g>
<g stroke="#D8E0EC" stroke-width="0.8"><line x1="15" y1="37" x2="15" y2="59"/><line x1="21" y1="40" x2="21" y2="62"/><line x1="27" y1="43" x2="27" y2="65"/><line x1="41" y1="43" x2="41" y2="65"/><line x1="48" y1="39" x2="48" y2="61"/><line x1="55" y1="36" x2="55" y2="58"/></g>
<g fill="#A8A8B0"><rect x="20" y="28" width="5" height="4"/><rect x="27" y="32" width="5" height="4"/><rect x="35" y="36" width="5" height="4"/></g>
<polygon points="36,24 46,20 54,24 44,28" fill="#F8F8FA" stroke="#B0B0B8" stroke-width="0.6"/>
<circle cx="63" cy="50" r="4.5" fill="#5CA84A"/><rect x="62.3" y="54" width="1.4" height="5" fill="#6A5A4A"/>
<circle cx="40" cy="40" r="39" fill="none" stroke="#EFF8F8" stroke-width="2"/></svg></div>
<div class="c" style="left:473px;top:843px;border-color:#3F7F80"><div class="in"></div><svg viewBox="0 0 80 80" width="80" height="80">
<ellipse cx="40" cy="66" rx="32" ry="6" fill="#DCDCE0"/>
<polygon points="44,12 58,6 72,12 72,54 58,60 44,54" fill="#7A98BC"/>
<polygon points="58,18 72,12 72,54 58,60" fill="#5A789C"/>
<polygon points="44,12 58,6 72,12 58,18" fill="#DDE4EE"/>
<g fill="#3F5F88"><rect x="46" y="36" width="11" height="3"/><rect x="46" y="42" width="11" height="3"/><rect x="46" y="48" width="11" height="3"/></g>
<polygon points="9,15 17,11 25,15 25,58 17,62 9,58" fill="#A8BEDA"/>
<polygon points="17,19 25,15 25,58 17,62" fill="#7E9CC4"/>
<g fill="#5A7AAA"><rect x="10" y="22" width="6" height="2"/><rect x="10" y="28" width="6" height="2"/><rect x="10" y="34" width="6" height="2"/><rect x="10" y="40" width="6" height="2"/><rect x="10" y="46" width="6" height="2"/></g>
<polygon points="23,24 36,18 50,24 50,67 36,73 23,67" fill="#C2D4EC"/>
<polygon points="36,30 50,24 50,67 36,73" fill="#9AB4DA"/>
<polygon points="23,24 36,18 50,24 36,30" fill="#E8EEF6"/>
<g stroke="#7E9CC8" stroke-width="0.9"><line x1="24" y1="32" x2="35" y2="37"/><line x1="24" y1="38" x2="35" y2="43"/><line x1="24" y1="44" x2="35" y2="49"/><line x1="24" y1="50" x2="35" y2="55"/><line x1="24" y1="56" x2="35" y2="61"/><line x1="24" y1="62" x2="35" y2="67"/></g>
<circle cx="40" cy="40" r="39" fill="none" stroke="#EFF8F8" stroke-width="2"/></svg></div>
<div class="c" style="left:581px;top:843px;border-color:#36B3AD"><div class="in"></div><svg viewBox="0 0 80 80" width="80" height="80">
<ellipse cx="40" cy="70" rx="30" ry="5" fill="#DCDCE0"/>
<rect x="21" y="10" width="35" height="18" fill="#3F7F80"/>
<rect x="34" y="13" width="9" height="10" fill="#F4F4F4"/>
<text x="35.2" y="21.8" font-size="9" font-weight="bold" font-family="Liberation Sans" fill="#2E6A6A">H</text>
<rect x="24" y="15" width="7" height="6" fill="#A8D4D4"/><rect x="46" y="15" width="7" height="6" fill="#A8D4D4"/>
<rect x="16" y="28" width="44" height="22" fill="#3F7F80"/>
<g fill="#C8E4E4"><rect x="18" y="31" width="40" height="3"/><rect x="18" y="37" width="40" height="3"/><rect x="18" y="43" width="40" height="3"/></g>
<rect x="14" y="50" width="48" height="4" fill="#F4F4F4"/>
<rect x="16" y="54" width="44" height="15" fill="#3F7F80"/>
<rect x="26" y="56" width="24" height="13" fill="#A8C8C8"/>
<g fill="#3F7F80"><rect x="31" y="56" width="1.5" height="13"/><rect x="37" y="56" width="1.5" height="13"/><rect x="43" y="56" width="1.5" height="13"/></g>
<rect x="18" y="56" width="6" height="5" fill="#C8E4E4"/><rect x="52" y="56" width="6" height="5" fill="#C8E4E4"/>
<rect x="12" y="69" width="52" height="3" fill="#9AA0A4"/>
<circle cx="40" cy="40" r="39" fill="none" stroke="#EFF8F8" stroke-width="2"/></svg></div>
<div class="lbl" style="left:350px;top:941px">시·군·구</div>
<div class="lbl" style="left:459px;top:941px">중앙부처</div>
<div class="lbl" style="left:567px;top:941px">연관기관</div>

<svg class="a" style="left:0;top:0" width="1024" height="985" viewBox="0 0 1024 985">
<g fill="none" stroke="#8A837A" stroke-width="2"><line x1="508" y1="672" x2="508" y2="780"/><line x1="528.5" y1="791" x2="528.5" y2="683"/></g>
<polygon points="503.5,777 512.5,777 508,790" fill="#8A837A"/>
<polygon points="524,686 533,686 528.5,673" fill="#8A837A"/>
<g stroke="#4E4A48" stroke-width="0.9">
<rect x="429.5" y="779.8" width="25" height="40" fill="#FBFBFB"/>
<rect x="437.3" y="788" width="24.6" height="44.5" fill="#FBFBFB"/>
</g>
<g fill="none" stroke="#4E4A48" stroke-width="1"><path d="M443,799 v-4 h4.5 M452.5,799 v-4 h4 M443,809 v-4 h4.5 M452.5,809 v-4 h4 M443,819 v-4 h4.5 M452.5,819 v-4 h4 M447,832.5 v-7 h5.5 v7"/></g>
<g stroke="#3E4A50" stroke-width="0.9">
<path d="M402,818 L408,802 L418,800 L421,812 L420,824 L408,824z" fill="#3DB0C0"/>
<rect x="408" y="823" width="12.5" height="10" fill="#3DB0C0"/>
<circle cx="400" cy="819" r="2.8" fill="#fff"/>
<rect x="406.5" y="832" width="7" height="4" rx="2" fill="#fff"/><rect x="414" y="832" width="7" height="4" rx="2" fill="#fff"/>
<circle cx="413.8" cy="793.4" r="7" fill="#fff"/>
<path d="M405,785 C405,779 422,779 422,785 L418,789 L409,789z" fill="#3DB5C5"/>
</g>
<rect x="413" y="781" width="2" height="4" fill="#E8D050"/>
<path d="M414.6,807 L427.5,802 L440.8,807 C440.8,820 434,827 427.5,830 C421,827 414.6,820 414.6,807z" fill="#3BB8D8" stroke="#3E4A50" stroke-width="0.9"/>
<path d="M417,808.5 L427.5,804.5 L438.5,808.5 C438.5,819 433,825 427.5,827.5 C422,825 417,819 417,808.5z" fill="none" stroke="#A8E4F0" stroke-width="1"/>
<polygon points="427.5,811 429,814.5 432.5,814.8 429.8,817 430.7,820.5 427.5,818.6 424.3,820.5 425.2,817 422.5,814.8 426,814.5" fill="#fff"/>
</svg>
<!-- CENTER -->
<svg class="a" style="left:0;top:0" width="1024" height="985" viewBox="0 0 1024 985">
<defs>
<radialGradient id="sph" cx="0.5" cy="0.47" r="0.51">
<stop offset="0" stop-color="#ffffff"/><stop offset="0.62" stop-color="#fafafb"/><stop offset="0.84" stop-color="#f2f1f3"/><stop offset="0.95" stop-color="#e1dfe2"/><stop offset="1" stop-color="#dddbde"/>
</radialGradient>
</defs>
<circle cx="513" cy="487" r="146" fill="url(#sph)"/>
<!-- drone -->
<g>
<g stroke="#C9C6C3" stroke-width="3.2"><line x1="519" y1="289" x2="496" y2="270"/><line x1="519" y1="289" x2="547" y2="277"/><line x1="519" y1="289" x2="493" y2="299"/><line x1="519" y1="289" x2="544" y2="306"/></g>
<g fill="#E4E2E0" stroke="#D4D1CE" stroke-width="0.8">
<ellipse cx="496" cy="270.5" rx="21" ry="11"/><ellipse cx="547.5" cy="276.6" rx="21" ry="11"/><ellipse cx="492.5" cy="298.6" rx="21" ry="11"/><ellipse cx="543.8" cy="306" rx="21" ry="11"/>
</g>
<g fill="#F4F3F2"><path d="M496,270.5 L478,262 A21,11 0 0 1 500,259.5z"/><path d="M496,270.5 L514,279 A21,11 0 0 1 492,281.5z"/>
<path d="M547.5,276.6 L529,268 A21,11 0 0 1 551,265.6z"/><path d="M547.5,276.6 L566,285 A21,11 0 0 1 544,287.6z"/>
<path d="M492.5,298.6 L474,290 A21,11 0 0 1 496,287.6z"/><path d="M492.5,298.6 L511,307 A21,11 0 0 1 489,309.6z"/>
<path d="M543.8,306 L525,297.5 A21,11 0 0 1 547,295z"/><path d="M543.8,306 L562,314.5 A21,11 0 0 1 540,317z"/></g>
<g stroke="#B8B4B0" stroke-width="1.4"><line x1="480" y1="266" x2="512" y2="275"/><line x1="531" y1="272" x2="563" y2="281"/><line x1="476" y1="294" x2="508" y2="303"/><line x1="528" y1="301" x2="560" y2="311"/></g>
<g fill="#4A4A4C"><circle cx="496" cy="270.5" r="2.2"/><circle cx="547.5" cy="276.6" r="2.2"/><circle cx="492.5" cy="298.6" r="2.2"/><circle cx="543.8" cy="306" r="2.2"/></g>
<g stroke="#ABA7A4" stroke-width="2.2"><line x1="510" y1="296" x2="505" y2="315"/><line x1="529" y1="298" x2="533" y2="317"/></g>
<ellipse cx="519" cy="290" rx="14" ry="9.5" fill="#EFEFEF" stroke="#C8C6C4"/>
<ellipse cx="519" cy="287.5" rx="7.5" ry="4.5" fill="#4E4E50"/>
<circle cx="516" cy="303" r="4.8" fill="#5E5E60" stroke="#E8E8E8" stroke-width="1.5"/>
</g>
<!-- dotted network lines -->
<g fill="none" stroke="#9AA4C0" stroke-width="1.3" stroke-dasharray="1.6 2.2">
<path d="M470,358 L464,361 V412"/><path d="M485.5,336 L493,334.5 V374 H499"/><path d="M509,364 L515.5,346 L530.5,337"/><path d="M543.5,342.5 L558.8,357.8"/><path d="M569,372 L556,380"/>
</g>
<!-- icons -->
<g transform="translate(478.5,350) skewY(-28)"><rect x="-7" y="-9" width="14" height="18" rx="2.5" fill="#3A62B0"/><path d="M-3.5,1 a5,5 0 0,1 7,-3 M-2,3 a3,3 0 0,1 4,-2" stroke="#C8D8F0" stroke-width="1.4" fill="none"/><circle cx="0" cy="4.5" r="1.2" fill="#C8D8F0"/></g>
<g transform="translate(504,368.5) skewY(-28)"><rect x="-5" y="-6.5" width="10" height="13" rx="2.5" fill="#3F64B0"/><path d="M-2,-2 q0,4 3,5" stroke="#E8F0FA" stroke-width="1.5" fill="none"/></g>
<g transform="translate(537,339) skewY(28)"><rect x="-6.5" y="-8" width="13" height="16" rx="2.5" fill="#7E94C8"/><rect x="-3" y="-4.5" width="6" height="9" fill="#EEF2FA"/><g fill="#7E94C8"><rect x="-1.5" y="-3" width="3" height="1.5"/><rect x="-1.5" y="0.5" width="3" height="1.5"/></g></g>
<g transform="translate(567.5,359.5) skewY(28)"><rect x="-8.5" y="-10" width="17" height="20" rx="3" fill="#8098D0"/><circle cx="0" cy="-2" r="3.5" fill="#F4F6FC"/><rect x="-1" y="0" width="2" height="6" fill="#F4F6FC"/></g>
<!-- buildings -->
<g>
<!-- network base diamonds -->
<g fill="#D8E4F0" stroke="#9FB6D6" stroke-width="1">
<path d="M440,445 l8,-4 8,4 -8,4z"/><path d="M460,458 l8,-4 8,4 -8,4z"/><path d="M440,460 l8,-4 8,4 -8,4z"/>
<path d="M545,455 l8,-4 8,4 -8,4z"/><path d="M570,458 l8,-4 8,4 -8,4z"/><path d="M560,445 l8,-4 8,4 -8,4z"/>
</g>
<!-- left server -->
<path d="M447,416 l14,-7 14,7 v36 l-14,7 -14,-7z" fill="#E9EFF7"/>
<path d="M447,416 l14,-7 14,7 -14,7z" fill="#CFE0EE"/>
<path d="M453,415 l8,-4 8,4 -8,4z" fill="#6FC3C6"/>
<path d="M461,423 l14,-7 v36 l-14,7z" fill="#D4E2F2"/>
<g fill="#4C8ED0"><path d="M449,424 l10,5 v5 l-10,-5z"/><path d="M449,434 l10,5 v5 l-10,-5z"/><path d="M463,428 l10,-5 v5 l-10,5z"/><path d="M463,438 l10,-5 v5 l-10,5z"/></g>
<!-- tall white building -->
<path d="M528,377 l14,-8 14,8 v56 l-14,8 -14,-8z" fill="#F2F3F6"/>
<path d="M528,377 l14,-8 14,8 -14,8z" fill="#E2E4E8"/>
<path d="M542,385 l14,-8 v56 l-14,8z" fill="#DCE0EA"/>
<g fill="#8C9CC4"><path d="M529,390 l12,7 v2.5 l-12,-7z"/><path d="M529,397 l12,7 v2.5 l-12,-7z"/><path d="M529,404 l12,7 v2.5 l-12,-7z"/><path d="M529,411 l12,7 v2.5 l-12,-7z"/>
<path d="M543,397 l12,-7 v2.5 l-12,7z"/><path d="M543,404 l12,-7 v2.5 l-12,7z"/><path d="M543,411 l12,-7 v2.5 l-12,7z"/><path d="M543,418 l12,-7 v2.5 l-12,7z"/></g>
<path d="M529,418 l12,7 v12 l-12,-7z" fill="#4C6EC0"/>
<!-- bus -->
<path d="M556,391 l17,-9 13,7 -17,9z" fill="#F4F5F8"/>
<path d="M556,391 l13,7 v12 l-13,-7z" fill="#E6E9F0"/>
<path d="M569,398 l17,-9 v12 l-17,9z" fill="#F0F2F6"/>
<path d="M570,401 l15,-8 v4 l-15,8z" fill="#2F4A98"/>
<path d="M557,394 l11,6 v4 l-11,-6z" fill="#2F4A98"/>
<!-- pin -->
<path d="M584,401 a8,8 0 1,1 16,0 c0,5 -5,9 -8,13 c-3,-4 -8,-8 -8,-13z" fill="#E9A83A"/>
<circle cx="592" cy="401" r="4" fill="#9FB4D8"/>
<!-- cube -->
<path d="M577,417 l12,-6 12,6 v16 l-12,6 -12,-6z" fill="#BCC6DE"/>
<path d="M589,423 l12,-6 v16 l-12,6z" fill="#A0AED0"/>
<path d="M577,417 l12,-6 12,6 -12,6z" fill="#E8EDF8"/>
<g fill="#2F4A98"><path d="M592,424 l2.5,-1.3 v14 l-2.5,1.3z"/><path d="M597,421.5 l2.5,-1.3 v14 l-2.5,1.3z"/></g>
<!-- central building -->
<path d="M488,403 l23,-12 23,12 v58 l-23,12 -23,-12z" fill="#EEF2FA"/>
<path d="M511,415 l23,-12 v58 l-23,12z" fill="#D2DCF0"/>
<path d="M488,403 l23,-12 23,12 -23,12z" fill="#2E5EB2"/>
<path d="M499,403 l12,-6 12,6 -12,6z" fill="#5FC1D6"/>
<g fill="#3366BE"><path d="M492,414 l14,7 v4 l-14,-7z"/><path d="M492,420 l14,7 v4 l-14,-7z"/><path d="M492,434 l14,7 v4 l-14,-7z"/><path d="M492,440 l14,7 v4 l-14,-7z"/><path d="M492,454 l14,7 v4 l-14,-7z"/>
<path d="M515,423 l15,-8 v10 l-15,8z"/><path d="M515,443 l15,-8 v10 l-15,8z"/></g>
<!-- right server -->
<path d="M546,417 l14,-7 14,7 v36 l-14,7 -14,-7z" fill="#E9EFF7"/>
<path d="M546,417 l14,-7 14,7 -14,7z" fill="#CFE0EE"/>
<path d="M552,416 l8,-4 8,4 -8,4z" fill="#6FC3C6"/>
<path d="M560,424 l14,-7 v36 l-14,7z" fill="#D4E2F2"/>
<g fill="#4C8ED0"><path d="M548,425 l10,5 v5 l-10,-5z"/><path d="M548,435 l10,5 v5 l-10,-5z"/><path d="M562,429 l10,-5 v5 l-10,5z"/><path d="M562,439 l10,-5 v5 l-10,5z"/></g>
</g>
<!-- flower -->
<g stroke="#E0506A" stroke-width="1.5"><line x1="420" y1="458" x2="413" y2="451"/><line x1="420" y1="458" x2="420" y2="449"/><line x1="420" y1="458" x2="428" y2="451"/><line x1="420" y1="458" x2="411" y2="458"/><line x1="420" y1="458" x2="429" y2="458"/></g>
<circle cx="420" cy="460" r="3" fill="#C03A50"/>
<!-- monitors -->
<g>
<rect x="407" y="462" width="66" height="48" fill="#2E8A8B"/>
<rect x="411" y="466" width="58" height="40" fill="#2A2624"/>
<rect x="413" y="470" width="42" height="34" fill="#332F2C" stroke="#4AA0A0" stroke-width="1"/>
<polyline points="415,484 419,480 423,486 427,479 431,485 435,481 439,486 443,480 447,484 451,481" fill="none" stroke="#E89A3C" stroke-width="1.2"/>
<polyline points="415,490 419,487 423,491 427,486 431,490 435,487 439,491 443,486 447,490 451,488" fill="none" stroke="#8FBF55" stroke-width="1.2"/>
<polyline points="415,497 420,495 425,498 430,495 435,498 440,495 445,498 451,496" fill="none" stroke="#C76A3C" stroke-width="1.2"/>
<rect x="458" y="478" width="3" height="20" fill="#9BB55A"/><rect x="462" y="474" width="3" height="24" fill="#D37A3E"/>

<rect x="474" y="464.6" width="75.5" height="45.4" fill="#F2F2F0" stroke="#9A9A9A" stroke-width="1.2"/>
<g fill="#CFE3C5"><ellipse cx="490" cy="480" rx="8" ry="4"/><ellipse cx="520" cy="498" rx="9" ry="5"/><ellipse cx="535" cy="475" rx="6" ry="3"/></g>
<path d="M486,506 C495,492 505,490 515,488 C525,486 535,480 548,470" fill="none" stroke="#86BFE6" stroke-width="3"/>
<g fill="#E8B5C0"><circle cx="497" cy="475" r="2"/><circle cx="530" cy="490" r="2"/></g>

<rect x="551.7" y="462" width="64.8" height="48" fill="#2E8A8B"/>
<rect x="555" y="466" width="58" height="40" fill="#2A2624"/>
<polyline points="558,487 561,478 564,492 567,476 570,490 573,480 576,495 579,474 582,488 585,482 588,494 591,477 594,489 597,481 600,492 603,479 606,486 609,483" fill="none" stroke="#5FC7B8" stroke-width="1.4"/>

<rect x="407" y="514" width="66" height="46" fill="#2E8A8B"/>
<rect x="410" y="517" width="60" height="40" fill="#2A2624"/>
<g fill="#C9553E"><rect x="415" y="530" width="3" height="18"/><rect x="426" y="536" width="3" height="12"/></g>
<g fill="#8DBF5A"><rect x="419" y="525" width="3" height="23"/><rect x="434" y="532" width="3" height="16"/></g>
<g fill="#E0A63C"><rect x="423" y="528" width="3" height="20"/><rect x="430" y="534" width="3" height="14"/></g>
<rect x="441" y="526" width="28" height="28" fill="#332F2C" stroke="#4AA0A0" stroke-width="1"/>
<polyline points="443,545 447,540 451,547 455,537 459,544 463,539 467,546" fill="none" stroke="#D9603E" stroke-width="1.3"/>

<rect x="475.7" y="514" width="73.8" height="43.6" fill="#E7E8E8" stroke="#9A9A9A"/>
<rect x="480" y="520" width="14" height="22" fill="#2A2624"/>
<g fill="#5FB8A8"><circle cx="541" cy="524" r="5"/><circle cx="541" cy="536" r="5"/></g>
<rect x="486" y="546" width="52" height="9" fill="#5FB8B0"/>

<rect x="551.7" y="514" width="64.8" height="47.7" fill="#2E8A8B"/>
<rect x="555" y="518" width="58" height="40" fill="#2A2624"/>
<g fill="#D9603E"><circle cx="562" cy="526" r="3.5"/><circle cx="562" cy="536" r="3.5"/><circle cx="562" cy="546" r="3.5"/></g>
<polyline points="570,545 573,532 576,546 579,530 582,547 585,534 588,545 591,538" fill="none" stroke="#E8C43C" stroke-width="1.3"/>
<rect x="595" y="522" width="16" height="28" fill="#332F2C" stroke="#4AA0A0" stroke-width="1"/>
<g stroke="#5FB8A8" stroke-width="1"><line x1="598" y1="528" x2="608" y2="528"/><line x1="598" y1="533" x2="608" y2="533"/><line x1="598" y1="538" x2="608" y2="538"/></g>
<g fill="#2A2624"><rect x="436" y="560" width="6" height="8"/><rect x="580" y="561" width="6" height="8"/></g>
<rect x="570" y="567" width="20" height="6" fill="#5FB8B0" stroke="#2A2624"/>
</g>
<!-- person -->
<g>
<path d="M480,552 C492,546 533,546 545,552 L541,600 L485,600z" fill="#2A2A3A"/>
<g fill="none" stroke="#2A2F3C" stroke-width="11" stroke-linejoin="round" stroke-linecap="round"><path d="M484,555 L461,594 L472,566"/><path d="M541,555 L564,594 L553,566"/></g>
<g fill="none" stroke="#3D6274" stroke-width="7.5" stroke-linejoin="round" stroke-linecap="round"><path d="M484,555 L461,594 L472,566"/><path d="M541,555 L564,594 L553,566"/></g>
<ellipse cx="472" cy="562" rx="6" ry="7" fill="#E9B08A"/><ellipse cx="553" cy="562" rx="6" ry="7" fill="#E9B08A"/>
<path d="M501,545 h23 l-3,6 h-17z" fill="#3E9090"/>
<ellipse cx="512.3" cy="522" rx="20" ry="22.5" fill="#5A201B"/>
<path d="M492.5,519 C491,504 500,499.5 512,499.5 C526,499.5 533,506 532,519 C526,511 500,511 492.5,519z" fill="#7A2E26"/>
</g>
<!-- left robot -->
<g>
<path d="M384,586 l36,-14 28,12 -36,15z" fill="#D8D8DA"/>
<path d="M403,566 C400,572 404,590 418,596 C426,592 432,584 436,576 L420,568z" fill="#F6F6F6" stroke="#CFCFD2" stroke-width="0.8"/>
<path d="M398,560 l30,-12 12,6 -30,12z" fill="#F2F2F4" stroke="#C8C8CC" stroke-width="0.8"/>
<g stroke-width="1.4"><line x1="404" y1="565" x2="424" y2="557" stroke="#D9603E"/><line x1="406" y1="567" x2="426" y2="559" stroke="#E8C43C"/><line x1="408" y1="569" x2="428" y2="561" stroke="#5FB8A8"/></g>
<path d="M408,546 l24,-9 v14 l-24,9z" fill="#A8DCDC" opacity="0.85"/>
<path d="M391,538 C391,534 405,533 406,538 L407,556 L393,558z" fill="#F2F2F4" stroke="#C8C8CC" stroke-width="0.8"/>
<circle cx="397" cy="530" r="6" fill="#F4F4F6" stroke="#C8C8CC" stroke-width="0.8"/>
<path d="M391,529 C391,522 403,521 404,527 L398,528z" fill="#3E9A98"/>
<circle cx="392" cy="545" r="3" fill="#4E6AA0"/>
<line x1="405" y1="544" x2="414" y2="548" stroke="#E4E4E6" stroke-width="3"/>
</g>
<!-- right robot -->
<g>
<path d="M612,598 l10,5 16,-8 -10,-5z" fill="#7D7D7D"/>
<circle cx="625" cy="521" r="4" fill="#D9503E"/>
<path d="M617,525 h16 v14 h-16z" fill="#F09A3A"/>
<rect x="620" y="529" width="9" height="4" fill="#555"/>
<path d="M613,540 h24 v26 h-24z" fill="#F0902F"/>
<circle cx="636" cy="550" r="4.5" fill="#3A3A3A"/>
<path d="M605,546 l8,-3 v5 l-8,5z" fill="#E88A2A"/>
<line x1="597" y1="548" x2="608" y2="549" stroke="#AAA" stroke-width="2"/>
<path d="M616,566 h7 v30 h-7z" fill="#F0902F"/><path d="M627,566 h7 v30 h-7z" fill="#E07F25"/>
<rect x="614" y="595" width="10" height="5" fill="#2E2E2E"/><rect x="626" y="597" width="10" height="5" fill="#2E2E2E"/>
<circle cx="630" cy="570" r="3.5" fill="#3A3A3A"/>
</g>
</svg>

<div class="pill" style="display:block;left:430px;top:601px;width:179px;height:60px;border-radius:24px;background:#25428F;font-weight:bold;font-size:18.5px;line-height:29px;padding-top:2px;box-sizing:border-box;letter-spacing:-1.8px;padding-left:8px;box-shadow:0 0 0 1.5px rgba(220,228,245,.8)">스마트도시<br>합천군</div>

<!-- TITLE -->
<div class="a" style="left:334px;top:70px;font-size:39px;line-height:45px;color:#3B4C7C;white-space:nowrap;-webkit-text-stroke:0.6px #3B4C7C;transform:scaleX(0.69);transform-origin:0 0">보다 안전한 합천</div>
<div class="a" style="left:333px;top:110px;font-size:52px;line-height:58px;font-weight:bold;color:#2F4680;white-space:nowrap;-webkit-text-stroke:1.6px #2F4680;transform:scaleX(0.54);transform-origin:0 0">스마트 도시</div>
<!-- LOGO -->
<svg class="a" style="left:0;top:0" width="330" height="180" viewBox="0 0 330 180">
<path d="M57,84 C60,79 80,79 99,80 L97,92 C84,92 68,92 62,90 C57,89 55,87 57,84Z" fill="#F8B92B"/>
<path d="M89,80 C95,79 101,81 102,86 C100,100 92,115 75,123 C66,127 57,131 50,131 C46,131 45,127 49,124 C62,118 76,104 84,92 C86,88 87,83 89,80Z" fill="#F7881F"/>
<path d="M89,80 C95,79 100,80 101,85 L97,92 C92,90 88,87 88,83Z" fill="#E8432B"/>
<path d="M98,47 C103,44 115,44 117,50 C118,80 117,110 115,135 C114,145 114,150 113,154 C111,157 107,157 106,154 L105,137 C101,137 96,137 93,136 C96,133 101,132 104,131 C104,110 103,80 98,47Z" fill="#76BE3B"/>
<path d="M146,59 C151,55 158,57 157,64 C155,80 143,96 131,106 L120,101 C130,90 140,75 146,59Z" fill="#36AFC1"/>
<path d="M104,86 C107,81 116,80 120,84 C135,102 150,118 170,130 C182,138 195,143 206,145 C204,151 198,156 191,158 C165,158 140,140 124,120 C116,110 108,100 104,92 C103,90 103,88 104,86Z" fill="#2A9DD5"/>
<path d="M104,86 C107,81 114,81 117,84 L117,102 C112,98 107,93 104,90Z" fill="#1E8A6C"/>
<ellipse cx="126" cy="104" rx="6" ry="4.5" fill="#2B4AB0"/>
</svg>
<div class="a" style="left:154px;top:78px;font-size:42px;line-height:50px;font-weight:bold;color:#2E2E2E;white-space:nowrap;transform:scaleX(0.81);transform-origin:0 0">려한</div>
<div class="a" style="left:225px;top:67px;font-size:62px;line-height:74px;font-weight:bold;color:#233A96;white-space:nowrap;transform:scaleX(0.755);transform-origin:0 0">합천</div>
<div class="a" style="left:217px;top:139px;font-size:20px;line-height:26px;font-family:'Liberation Sans',sans-serif;font-weight:bold;color:#2B3E99;white-space:nowrap;letter-spacing:-0.6px">Hapcheon</div>
</body></html>
